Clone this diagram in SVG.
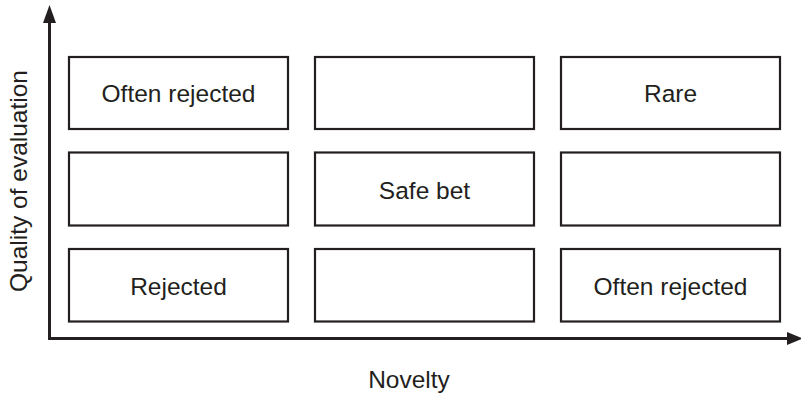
<svg xmlns="http://www.w3.org/2000/svg" width="801" height="395" viewBox="0 0 801 395">
<style>
.box{fill:#fff;stroke:#231f20;stroke-width:2.2}
.t{font-family:"Liberation Sans",Arial,sans-serif;font-size:24.5px;fill:#231f20;text-anchor:middle}
.ax{stroke:#231f20;stroke-width:3;fill:none}
</style>
<rect width="801" height="395" fill="#fff"/>
<g id="axes">
<line class="ax" x1="49.5" y1="340" x2="49.5" y2="20"/>
<polygon points="49.5,5 56,23 43,23" fill="#231f20"/>
<line class="ax" x1="48" y1="338.5" x2="788" y2="338.5"/>
<polygon points="803,338.5 787,332 787,345" fill="#231f20"/>
</g>
<g id="r1c1"><rect class="box" x="69" y="57" width="219" height="72"/><text class="t" x="178.5" y="102">Often rejected</text></g>
<g id="r1c2"><rect class="box" x="315" y="57" width="219" height="72"/></g>
<g id="r1c3"><rect class="box" x="561" y="57" width="219" height="72"/><text class="t" x="670.5" y="102">Rare</text></g>
<g id="r2c1"><rect class="box" x="69" y="152.5" width="219" height="73"/></g>
<g id="r2c2"><rect class="box" x="315" y="152.5" width="219" height="73"/><text class="t" x="424.5" y="199">Safe bet</text></g>
<g id="r2c3"><rect class="box" x="561" y="152.5" width="219" height="73"/></g>
<g id="r3c1"><rect class="box" x="69" y="249" width="219" height="72.5"/><text class="t" x="178.5" y="295">Rejected</text></g>
<g id="r3c2"><rect class="box" x="315" y="249" width="219" height="72.5"/></g>
<g id="r3c3"><rect class="box" x="561" y="249" width="219" height="72.5"/><text class="t" x="670.5" y="295">Often rejected</text></g>
<text class="t" x="409" y="388">Novelty</text>
<text class="t" transform="translate(27,181) rotate(-90)">Quality of evaluation</text>
</svg>
